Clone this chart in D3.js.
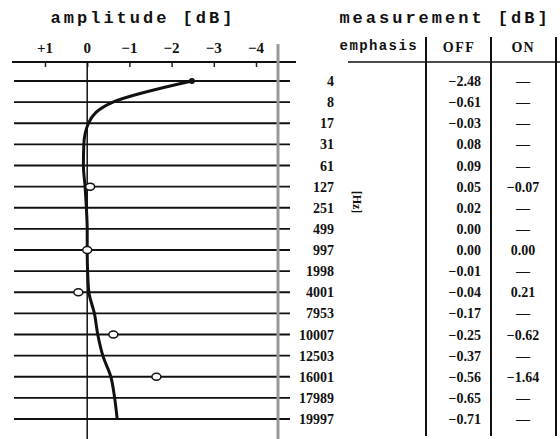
<!DOCTYPE html>
<html><head><meta charset="utf-8">
<script src="https://cdn.jsdelivr.net/npm/d3@7"></script>
<style>body{margin:0;background:#fff}svg{display:block}</style>
</head><body>
<svg id="c" width="560" height="439"></svg>
<script>
const freqs = ["4","8","17","31","61","127","251","499","997","1998","4001","7953","10007","12503","16001","17989","19997"];
const offValues = [-2.48,-0.61,-0.03,0.08,0.09,0.05,0.02,0.00,0.00,-0.01,-0.04,-0.17,-0.25,-0.37,-0.56,-0.65,-0.71];
const onValues = [null,null,null,null,null,-0.07,null,null,0.00,null,0.21,null,-0.62,null,-1.64,null,null];
const ampTicks = [1,0,-1,-2,-3,-4];
const tickLabels = ["+1","0","\u22121","\u22122","\u22123","\u22124"];

const svg = d3.select("#c");
const x = d3.scaleLinear().domain([1,-4]).range([45,256]);
const y = d3.scalePoint().domain(freqs).range([81,419]);
const fmt = d3.format(".2f");
const serif = "'Liberation Serif', serif";
const mono = "'Liberation Mono', monospace";

// titles
svg.append("text").attr("x",143).attr("y",23).attr("text-anchor","middle")
  .attr("font-family",mono).attr("font-weight","bold").attr("font-size",17)
  .attr("letter-spacing",3).attr("fill","#111").text("amplitude [dB]");
svg.append("text").attr("x",445).attr("y",23).attr("text-anchor","middle")
  .attr("font-family",mono).attr("font-weight","bold").attr("font-size",17)
  .attr("letter-spacing",3).attr("fill","#111").text("measurement [dB]");

// top axis
const axis = d3.axisBottom(x).tickValues(ampTicks).tickSize(5).tickFormat("");
const ag = svg.append("g").attr("transform","translate(0,62)").call(axis);
ag.select(".domain").remove();
ag.selectAll("line").attr("stroke","#222").attr("stroke-width",1.5);
svg.append("line").attr("x1",12).attr("x2",296).attr("y1",62).attr("y2",62)
  .attr("stroke","#111").attr("stroke-width",2);
svg.selectAll(".tl").data(ampTicks).join("text").attr("class","tl")
  .attr("x",d=>x(d)).attr("y",53).attr("text-anchor","middle")
  .attr("font-family",serif).attr("font-weight","bold").attr("font-size",15)
  .attr("fill","#111").text((d,i)=>tickLabels[i]);

// row lines
svg.selectAll(".row").data(freqs).join("line").attr("class","row")
  .attr("x1",14).attr("x2",290).attr("y1",d=>y(d)).attr("y2",d=>y(d))
  .attr("stroke","#111").attr("stroke-width",1.8);

// zero line
svg.append("line").attr("x1",x(0)).attr("x2",x(0)).attr("y1",62).attr("y2",439)
  .attr("stroke","#111").attr("stroke-width",1.5);

// right border of plot
svg.append("line").attr("x1",278).attr("x2",278).attr("y1",44).attr("y2",439)
  .attr("stroke","#999").attr("stroke-width",3);

// curve
const line = d3.line().x((d,i)=>x(d)).y((d,i)=>y(freqs[i])).curve(d3.curveMonotoneY);
svg.append("path").datum(offValues).attr("d",line).attr("fill","none")
  .attr("stroke","#111").attr("stroke-width",3);
svg.append("circle").attr("cx",x(offValues[0])).attr("cy",y(freqs[0])).attr("r",3).attr("fill","#111");

// ON circles
const onPts = onValues.map((v,i)=>({v,f:freqs[i]})).filter(d=>d.v!==null);
svg.selectAll(".on").data(onPts).join("ellipse").attr("class","on")
  .attr("cx",d=>x(d.v)).attr("cy",d=>y(d.f)).attr("rx",4.5).attr("ry",3.5)
  .attr("fill","#fff").attr("stroke","#111").attr("stroke-width",1.5);

// table
const tg = svg.append("g");
tg.append("text").attr("x",418).attr("y",50).attr("text-anchor","end")
  .attr("font-family",mono).attr("font-weight","bold").attr("font-size",14).attr("letter-spacing",1.4).attr("fill","#111").text("emphasis");
tg.append("text").attr("x",459).attr("y",52).attr("text-anchor","middle")
  .attr("font-family",serif).attr("font-weight","bold").attr("font-size",14).attr("letter-spacing",1.5).attr("fill","#111").text("OFF");
tg.append("text").attr("x",523).attr("y",52).attr("text-anchor","middle")
  .attr("font-family",serif).attr("font-weight","bold").attr("font-size",14).attr("letter-spacing",1).attr("fill","#111").text("ON");
tg.append("line").attr("x1",348).attr("x2",560).attr("y1",62).attr("y2",62).attr("stroke","#111").attr("stroke-width",1.5);
[426,491,556].forEach(vx=>{
  tg.append("line").attr("x1",vx).attr("x2",vx).attr("y1",37).attr("y2",436)
    .attr("stroke","#111").attr("stroke-width",2);
});
tg.selectAll(".fl").data(freqs).join("text").attr("class","fl")
  .attr("x",334).attr("y",d=>y(d)+5).attr("text-anchor","end")
  .attr("font-family",serif).attr("font-weight","bold").attr("font-size",14)
  .attr("fill","#111").text(d=>d);
tg.selectAll(".ov").data(offValues).join("text").attr("class","ov")
  .attr("x",481).attr("y",(d,i)=>y(freqs[i])+5).attr("text-anchor","end")
  .attr("font-family",serif).attr("font-weight","bold").attr("font-size",14)
  .attr("fill","#111").text(d=>fmt(d));
tg.selectAll(".nv").data(onValues).join("text").attr("class","nv")
  .attr("x",523).attr("y",(d,i)=>y(freqs[i])+5).attr("text-anchor","middle")
  .attr("font-family",serif).attr("font-weight","bold").attr("font-size",14)
  .attr("fill","#111").text(d=>d===null?"\u2014":fmt(d));
tg.append("text").attr("transform","translate(353,202) rotate(90)").attr("text-anchor","middle")
  .attr("font-family",serif).attr("font-weight","bold").attr("font-size",12).attr("fill","#111").text("[Hz]");
</script>
</body></html>
